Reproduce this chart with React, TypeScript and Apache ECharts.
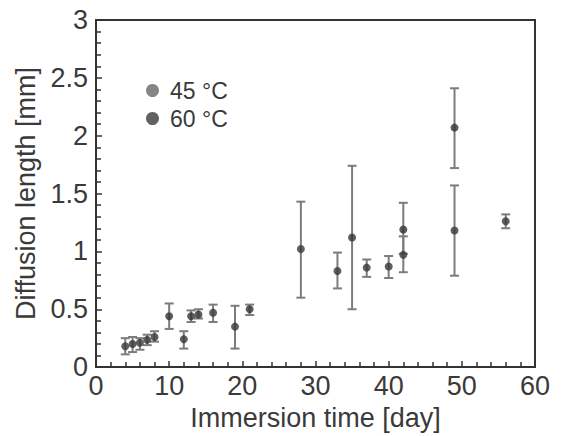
import React, { useEffect, useRef } from "react";
import * as echarts from "echarts";

const days45 = [4, 6, 8, 12, 16, 19, 28, 33, 37, 40, 42, 49, 56];
const mean45 = [0.18, 0.21, 0.26, 0.24, 0.47, 0.35, 1.02, 0.83, 0.86, 0.87, 0.97, 1.18, 1.26];
const low45 = [0.11, 0.15, 0.22, 0.16, 0.39, 0.16, 0.6, 0.68, 0.78, 0.77, 0.82, 0.79, 1.2];
const high45 = [0.25, 0.25, 0.31, 0.31, 0.54, 0.53, 1.43, 0.99, 0.93, 0.96, 1.13, 1.57, 1.32];

const days60 = [5, 7, 10, 13, 14, 21, 35, 42, 49];
const mean60 = [0.2, 0.235, 0.44, 0.44, 0.455, 0.5, 1.12, 1.19, 2.07];
const low60 = [0.13, 0.19, 0.33, 0.39, 0.42, 0.45, 0.5, 0.98, 1.72];
const high60 = [0.26, 0.28, 0.55, 0.49, 0.5, 0.54, 1.74, 1.42, 2.41];

const seriesNames = ["45 °C", "60 °C"];
const xName = "Immersion time [day]";
const yName = "Diffusion length [mm]";

const FONT = "'Liberation Sans', Arial, sans-serif";
const TXT = "#3a3a3a";

function errRender(params: any, api: any) {
  const x = api.value(0);
  const lo = api.coord([x, api.value(1)]);
  const hi = api.coord([x, api.value(2)]);
  const w = 4.5;
  const style = { stroke: "#7c7c7c", lineWidth: 2 };
  return {
    type: "group",
    children: [
      { type: "line", shape: { x1: lo[0], y1: lo[1], x2: hi[0], y2: hi[1] }, style },
      { type: "line", shape: { x1: lo[0] - w, y1: lo[1], x2: lo[0] + w, y2: lo[1] }, style },
      { type: "line", shape: { x1: hi[0] - w, y1: hi[1], x2: hi[0] + w, y2: hi[1] }, style },
    ],
  };
}

export default function App() {
  const ref = useRef<HTMLDivElement>(null);
  useEffect(() => {
    if (!ref.current) return;
    const chart = echarts.init(ref.current, null, { renderer: "svg" });
    const err45 = days45.map((d, i) => [d, low45[i], high45[i]]);
    const err60 = days60.map((d, i) => [d, low60[i], high60[i]]);
    const pts45 = days45.map((d, i) => [d, mean45[i]]);
    const pts60 = days60.map((d, i) => [d, mean60[i]]);
    const tickStyle = { color: "#333", width: 1.5 };
    chart.setOption({
      animation: false,
      backgroundColor: "#fff",
      grid: {
        left: 96,
        right: 27,
        top: 20,
        bottom: 64,
        show: true,
        borderColor: "#333",
        borderWidth: 2,
      },
      legend: {
        data: [
          { name: seriesNames[0], itemStyle: { color: "#666" } },
          { name: seriesNames[1], itemStyle: { color: "#3a3a3a" } },
        ],
        orient: "vertical",
        left: 141,
        top: 74,
        itemWidth: 13,
        itemHeight: 13,
        itemGap: 5,
        icon: "circle",
        textStyle: { fontFamily: FONT, fontSize: 23, color: TXT, padding: [0, 0, 0, 6] },
      },
      xAxis: {
        type: "value",
        min: 0,
        max: 60,
        interval: 10,
        name: xName,
        nameLocation: "middle",
        nameGap: 36,
        nameTextStyle: { fontFamily: FONT, fontSize: 27, color: TXT },
        axisLine: { show: true, lineStyle: { color: "#333", width: 2 } },
        axisTick: { show: true, inside: true, length: 6, lineStyle: tickStyle },
        minorTick: { show: true, splitNumber: 5, length: 5, lineStyle: tickStyle },
        axisLabel: { fontFamily: FONT, fontSize: 27, color: TXT, margin: 5 },
        splitLine: { show: false },
      },
      yAxis: {
        type: "value",
        min: 0,
        max: 3,
        interval: 0.5,
        name: yName,
        nameLocation: "middle",
        nameGap: 50,
        nameTextStyle: { fontFamily: FONT, fontSize: 27, color: TXT },
        axisLine: { show: true, lineStyle: { color: "#333", width: 2 } },
        axisTick: { show: true, inside: true, length: 6, lineStyle: tickStyle },
        minorTick: { show: true, splitNumber: 5, length: 5, lineStyle: tickStyle },
        axisLabel: { fontFamily: FONT, fontSize: 27, color: TXT, margin: 8 },
        splitLine: { show: false },
      },
      series: [
        { type: "custom", name: "err45", renderItem: errRender, data: err45, z: 2, silent: true },
        { type: "custom", name: "err60", renderItem: errRender, data: err60, z: 2, silent: true },
        {
          type: "scatter",
          name: seriesNames[0],
          data: pts45,
          symbol: "circle",
          symbolSize: 8,
          itemStyle: { color: "#383838" },
          z: 3,
        },
        {
          type: "scatter",
          name: seriesNames[1],
          data: pts60,
          symbol: "circle",
          symbolSize: 8,
          itemStyle: { color: "#333" },
          z: 3,
        },
      ],
    });
    return () => chart.dispose();
  }, []);
  return <div ref={ref} style={{ width: 562, height: 436, position: "absolute", left: 0, top: 0 }} />;
}
